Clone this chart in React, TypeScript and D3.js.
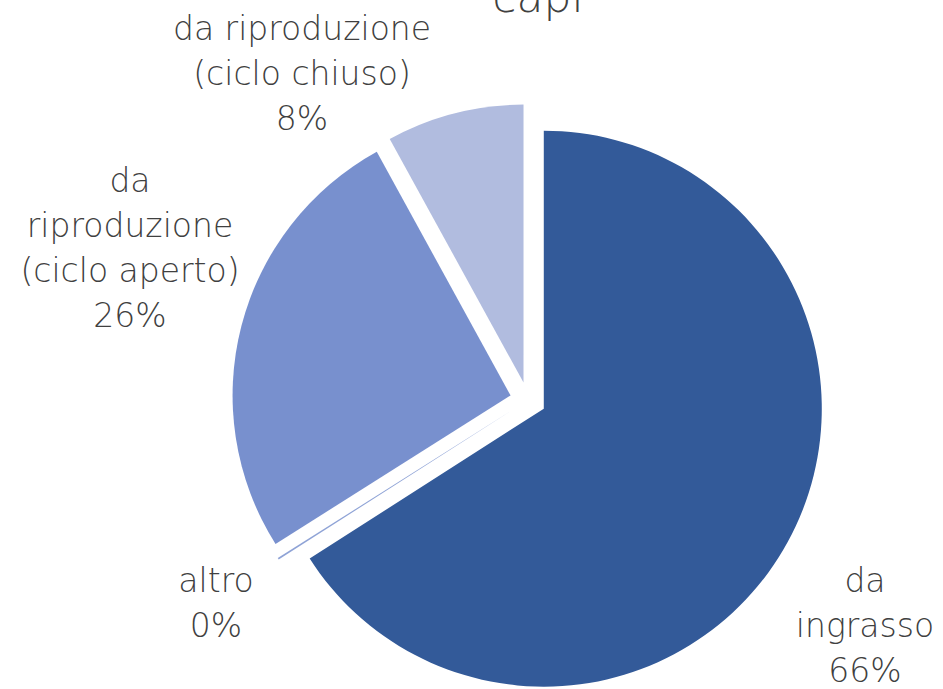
import { useEffect, useRef } from "react";
import * as d3 from "d3";

// data (percent shares)
const categories = [
  "da ingrasso",
  "altro",
  "da riproduzione (ciclo aperto)",
  "da riproduzione (ciclo chiuso)",
];
const shares = [66, 0.1, 26, 8];
const labelLines = [
  ["da", "ingrasso"],
  ["altro"],
  ["da", "riproduzione", "(ciclo aperto)"],
  ["da riproduzione", "(ciclo chiuso)"],
];
const colors = ["#335A99", "#8FA3D6", "#7890CE", "#B1BCDF"];
const title = "capi";

export default function App() {
  const svgRef = useRef<SVGSVGElement>(null);

  useEffect(() => {
    document.body.style.margin = "0";
    const svg = d3.select(svgRef.current);
    svg.selectAll("*").remove();

    const width = 943;
    const height = 689;
    const cx = 528;
    const cy = 400;
    const radius = 278;
    const explode = 18;
    const font = "'Century Gothic', 'DejaVu Sans', sans-serif";
    const textColor = "#404040";
    const fontSize = 33;
    const lineH = 45;

    svg.append("rect").attr("width", width).attr("height", height).attr("fill", "#fff");

    // title, mostly cut off at the top as in the source
    svg
      .append("text")
      .attr("x", 538)
      .attr("y", 12)
      .attr("text-anchor", "middle")
      .attr("font-family", font)
      .attr("font-weight", 200)
      .attr("font-size", 44)
      .attr("fill", textColor)
      .text(title);

    const pie = d3
      .pie<number>()
      .sort(null)
      .value((d) => d);
    const arcs = pie(shares);
    const total = d3.sum(shares);

    const arc = d3.arc<d3.PieArcDatum<number>>().innerRadius(0).outerRadius(radius);

    const g = svg.append("g").attr("transform", `translate(${cx},${cy})`);

    g.selectAll("path")
      .data(arcs)
      .enter()
      .append("path")
      .attr("d", arc)
      .attr("fill", (_, i) => colors[i])
      .attr("transform", (d) => {
        const mid = (d.startAngle + d.endAngle) / 2;
        return `translate(${Math.sin(mid) * explode},${-Math.cos(mid) * explode})`;
      });

    // best-fit label spots, relative to pie centre
    const labelSpots = [
      [337, 192],
      [-312, 192],
      [-398, -208],
      [-226, -360],
    ];

    const labels = svg.append("g").attr("transform", `translate(${cx},${cy})`);
    arcs.forEach((a, i) => {
      const lines = [...labelLines[i], `${Math.round((a.value / total) * 100)}%`];
      const [lx, ly] = labelSpots[i];
      const t = labels
        .append("text")
        .attr("text-anchor", "middle")
        .attr("font-family", font)
        .attr("font-weight", 200)
        .attr("font-size", fontSize)
        .attr("fill", textColor);
      lines.forEach((ln, j) => {
        t.append("tspan")
          .attr("x", lx)
          .attr("y", ly + j * lineH)
          .text(ln);
      });
    });
  }, []);

  return <svg ref={svgRef} width={943} height={689} style={{ display: "block" }} />;
}
